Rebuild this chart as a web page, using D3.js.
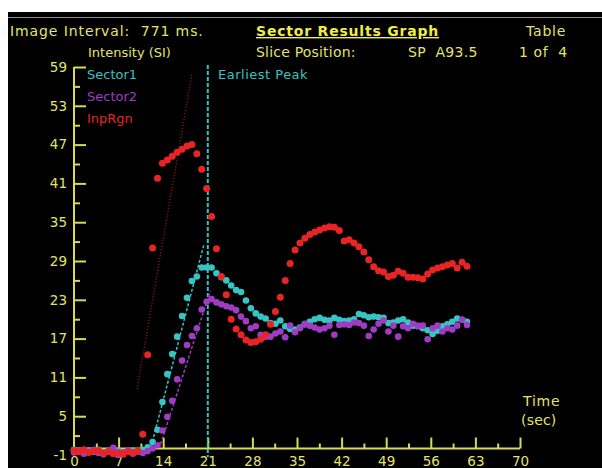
<!DOCTYPE html>
<html>
<head>
<meta charset="utf-8">
<script src="https://cdn.jsdelivr.net/npm/d3@7"></script>
<style>
  body { margin: 0; background: #fff; }
  svg { display: block; }
  text { font-family: "DejaVu Sans", Arial, sans-serif; }
</style>
</head>
<body>
<div id="chart"></div>
<script>
// image interval in seconds (771 ms between samples)
var interval = 0.771;

var yTicks = [-1, 5, 11, 17, 23, 29, 35, 41, 47, 53, 59];
var yMinor = [2, 8, 14, 20, 26, 32, 38, 44, 50, 56];
var xTicks = [0, 7, 14, 21, 28, 35, 42, 49, 56, 63, 70];
var xMinor = [3.5, 10.5, 17.5, 24.5, 31.5, 38.5, 45.5, 52.5, 59.5, 66.5];

var seriesNames = ["Sector1", "Sector2", "InpRgn"];

var sector1 = [-0.2, -0.4, -0.6, -0.3, -0.5, -0.2, -0.6, -0.4, -0.7, -0.3, -0.6, -0.5, -0.3, -0.4, -0.2,
  0.2, 1.0, 2.9, 7.2, 11.5, 14.6, 17.3, 20.5, 23.3, 25.9, 26.6, 28.0, 28.0, 28.0, 27.1,
  26.5, 26.0, 25.2, 24.5, 24.2, 22.9, 21.7, 20.9, 20.4, 20.1, 19.4, 19.3, 19.8, 18.9, 18.5,
  18.4, 18.7, 19.2, 19.6, 20.0, 20.2, 19.9, 19.8, 20.2, 19.9, 19.7, 19.8, 20.0, 20.8, 20.6,
  20.3, 20.4, 20.3, 20.2, 19.4, 19.5, 19.8, 20.0, 19.5, 19.0, 18.9, 18.6, 18.3, 17.7, 18.2,
  18.9, 19.2, 19.6, 20.1, 19.9, 19.6];

var sector2 = [-0.6, -0.3, -0.8, -0.5, -0.2, -0.7, -0.9, -0.4, 0.1, -1.0, -0.6, -0.3, -0.8, -0.5, -0.7,
  -0.4, 0.0, 0.5, 2.8, 4.9, 7.4, 10.7, 13.6, 16.0, 17.4, 18.6, 21.5, 22.7, 23.1, 22.6,
  22.3, 22.0, 21.8, 21.4, 20.4, 19.7, 18.6, 18.9, 17.6, 17.3, 17.3, 17.8, 18.1, 17.2, 19.0,
  18.0, 18.6, 19.3, 19.0, 18.7, 18.4, 18.6, 19.0, 17.6, 19.1, 19.2, 19.1, 19.5, 19.4, 19.0,
  17.4, 18.4, 19.3, 19.8, 18.1, 19.0, 17.3, 18.9, 18.6, 19.3, 19.0, 19.0, 16.9, 18.6, 19.0,
  18.1, 18.6, 18.4, 19.0, 19.9, 19.1];

var inpRgn = [-0.3, -0.5, -0.2, -0.6, -0.4, -0.3, -0.7, -0.5, -0.8, -0.6, -0.9, -0.5, -0.6, -0.4, 2.2,
  14.5, 31.0, 41.8, 44.1, 44.6, 45.2, 45.8, 46.3, 46.8, 47.0, 45.6, 43.2, 40.2, 35.9, 30.9,
  26.6, 23.8, 20.0, 18.5, 17.6, 16.8, 16.4, 16.5, 16.9, 17.6, 19.2, 21.2, 23.4, 26.0, 28.6,
  30.7, 31.8, 32.5, 33.1, 33.5, 33.8, 34.1, 34.3, 34.2, 33.7, 32.1, 32.3, 31.8, 31.2, 30.4,
  29.2, 28.1, 27.5, 27.3, 26.6, 26.8, 27.4, 27.1, 26.5, 26.5, 26.4, 26.2, 27.0, 27.6, 27.9,
  28.1, 28.4, 28.6, 27.9, 28.8, 28.2];

// upslope fit lines: [t0, v0, t1, v1]
var fitSector1 = [12.1, 0.3, 20.4, 31.6];
var fitSector2 = [13.6, 0.7, 21.4, 24.4];
var fitInpRgn = [9.9, 9.2, 18.5, 57.9];

var earliestPeak = 21;

var W = 602, H = 468;
var yellow = "#d9dc4c", textYellow = "#e4e46a";
var cyan = "#36c4c4", purple = "#a03cc4", red = "#e82424";

var svg = d3.select("#chart").append("svg")
    .attr("width", W)
    .attr("height", H);

// black panel
svg.append("rect").attr("x", 8).attr("y", 12).attr("width", W - 8).attr("height", H - 12).attr("fill", "#000");
svg.append("line").attr("x1", 8).attr("x2", W).attr("y1", 17.5).attr("y2", 17.5)
    .attr("stroke", "#8a8a8a").attr("stroke-width", 1.2);

var x = d3.scaleLinear().domain([0, 70]).range([74, 520]);
var y = d3.scaleLinear().domain([-1, 59]).range([455, 67]);

// texts
function label(txt, px, py, color, size, ls) {
    return svg.append("text").attr("x", px).attr("y", py).text(txt)
        .attr("fill", color).attr("font-size", size).attr("letter-spacing", ls)
        .attr("xml:space", "preserve");
}
label("Image Interval:  771 ms.", 10, 36, textYellow, 14, 0.9);
label("Sector Results Graph", 256, 36, "#eeee44", 14, 0.8)
    .attr("font-weight", "bold").attr("text-decoration", "underline");
label("Table", 526, 36, textYellow, 14, 0.8);
label("Intensity (SI)", 88, 57, textYellow, 13, 0);
label("Slice Position:", 256, 57, textYellow, 14, 0.2);
label("SP  A93.5", 408, 57, textYellow, 14, 0.3);
label("1 of  4", 519, 57, textYellow, 14, 0.6);
label("Time", 523, 406, textYellow, 14, 0.8);
label("(sec)", 521, 425, textYellow, 14, 0.2);

// y axis
var gy = svg.append("g").attr("transform", "translate(" + x(0) + ",0)");
gy.call(d3.axisLeft(y).tickValues(yTicks).tickSizeInner(-12).tickSizeOuter(0).tickPadding(7)
    .tickFormat(function(d) { return String(d); }));
gy.selectAll(".tick line").filter(function(d) { return d < 0; }).remove();
gy.append("g").call(d3.axisLeft(y).tickValues(yMinor).tickSizeInner(-6).tickSizeOuter(0).tickFormat(""))
    .select(".domain").remove();
gy.select(".domain").remove();
gy.append("line").attr("y1", y(59)).attr("y2", y(0)).attr("stroke", yellow).attr("stroke-width", 2);

// x axis
var gx = svg.append("g").attr("transform", "translate(0," + y(0) + ")");
gx.call(d3.axisBottom(x).tickValues(xTicks).tickSizeInner(-11).tickSizeOuter(0).tickPadding(8));
gx.selectAll(".tick line").filter(function(d) { return d === 0; }).remove();
gx.append("g").call(d3.axisBottom(x).tickValues(xMinor).tickSizeInner(-5).tickSizeOuter(0).tickFormat(""))
    .select(".domain").remove();
gx.select(".domain").remove();
gx.append("line").attr("x1", x(0)).attr("x2", x(70)).attr("stroke", yellow).attr("stroke-width", 2);

svg.selectAll(".tick line").attr("stroke", yellow).attr("stroke-width", 2);
svg.selectAll(".tick text").attr("fill", textYellow).attr("font-size", 13.5)
    .attr("font-family", "DejaVu Sans, Arial, sans-serif");

// earliest peak marker
svg.append("line")
    .attr("x1", x(earliestPeak)).attr("x2", x(earliestPeak))
    .attr("y1", 65).attr("y2", 457)
    .attr("stroke", cyan).attr("stroke-width", 2).attr("stroke-dasharray", "4,2");
label("Earliest Peak", 218, 79, cyan, 13, 0.5);

// legend
label(seriesNames[0], 87, 79, cyan, 13, 0);
label(seriesNames[1], 87, 101, purple, 13, 0);
label(seriesNames[2], 87, 123, red, 13, 0);

// fit lines
function fit(f, color, dash, w) {
    svg.append("line")
        .attr("x1", x(f[0])).attr("y1", y(f[1]))
        .attr("x2", x(f[2])).attr("y2", y(f[3]))
        .attr("stroke", color).attr("stroke-width", w).attr("stroke-dasharray", dash);
}
fit(fitInpRgn, "#b01818", "1,2", 1.3);
fit(fitSector1, cyan, "3,2", 1.5);
fit(fitSector2, purple, "3,2", 1.5);

// dots
function dots(vals, color, r) {
    svg.append("g").selectAll("circle")
        .data(vals)
        .enter()
        .append("circle")
            .attr("cx", function(d, i) { return x(i * interval); })
            .attr("cy", function(d) { return y(d); })
            .attr("r", r)
            .attr("fill", color);
}
dots(sector1, cyan, 3.3);
dots(sector2, purple, 3.3);
dots(inpRgn, red, 3.5);
</script>
</body>
</html>
